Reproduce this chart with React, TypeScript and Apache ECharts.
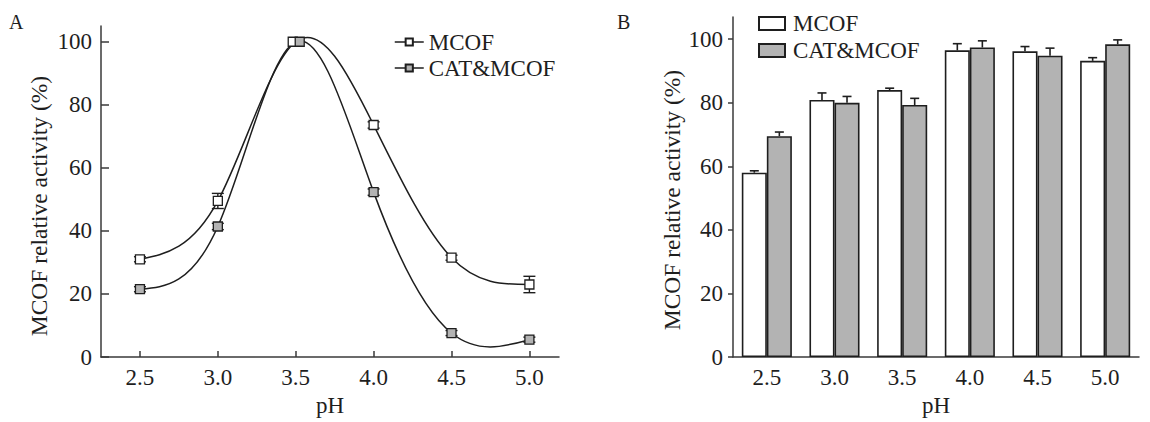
import React, { useEffect, useRef } from "react";
import * as echarts from "echarts";

// Panel A: relative activity vs pH (spline curves with error bars)
const phA = [2.5, 3.0, 3.5, 4.0, 4.5, 5.0];
const mcofA = [31, 49.5, 100, 73.6, 31.5, 23];
const mcofAErr = [0.8, 2.4, 0.8, 1.0, 0.8, 2.6];
const catA = [21.5, 41.4, 100, 52.3, 7.6, 5.5];
const catAErr = [0.8, 1.0, 0.8, 1.0, 0.8, 0.8];

// Panel B: relative activity per pH (grouped bars with error bars)
const phB = ["2.5", "3.0", "3.5", "4.0", "4.5", "5.0"];
const mcofB = [58, 80.9, 84, 96.5, 96.2, 93.2];
const mcofBErr = [0.6, 2.2, 0.6, 2.1, 1.5, 1.0];
const catB = [69.5, 80, 79.3, 97.4, 94.8, 98.4];
const catBErr = [1.3, 2.0, 2.1, 2.1, 2.4, 1.4];

const yTicks = [0, 20, 40, 60, 80, 100];
const xTicksA = [2.5, 3.0, 3.5, 4.0, 4.5, 5.0];

const SERIF = "'Liberation Serif', 'Times New Roman', serif";
const INK = "#1e1e1e";
const AXIS = "#3a3a3a";
const GREY = "#b3b3b3";
const BAR_CAT_GAP = 0.26;

// Natural cubic spline: slope at each knot (knots may be unevenly spaced)
function splineSlopes(xs: number[], ys: number[]): number[] {
  const n = xs.length;
  const h: number[] = [];
  for (let i = 0; i < n - 1; i++) h.push(xs[i + 1] - xs[i]);
  const M = new Array(n).fill(0);
  if (n > 2) {
    const a: number[] = [], b: number[] = [], c: number[] = [], d: number[] = [];
    for (let i = 1; i < n - 1; i++) {
      a.push(h[i - 1]);
      b.push(2 * (h[i - 1] + h[i]));
      c.push(h[i]);
      d.push(6 * ((ys[i + 1] - ys[i]) / h[i] - (ys[i] - ys[i - 1]) / h[i - 1]));
    }
    const m = b.length;
    for (let i = 1; i < m; i++) {
      const w = a[i] / b[i - 1];
      b[i] -= w * c[i - 1];
      d[i] -= w * d[i - 1];
    }
    const sol = new Array(m).fill(0);
    sol[m - 1] = d[m - 1] / b[m - 1];
    for (let i = m - 2; i >= 0; i--) sol[i] = (d[i] - c[i] * sol[i + 1]) / b[i];
    for (let i = 0; i < m; i++) M[i + 1] = sol[i];
  }
  const slopes: number[] = [];
  for (let i = 0; i < n; i++) {
    if (i < n - 1) {
      slopes.push((ys[i + 1] - ys[i]) / h[i] - (h[i] * (2 * M[i] + M[i + 1])) / 6);
    } else {
      slopes.push((ys[i] - ys[i - 1]) / h[i - 1] + (h[i - 1] * (M[i - 1] + 2 * M[i])) / 6);
    }
  }
  return slopes;
}

export default function App() {
  const ref = useRef<HTMLDivElement>(null);

  useEffect(() => {
    if (!ref.current) return;
    const chart = echarts.init(ref.current, undefined, { renderer: "svg" });

    const axisText = { color: INK, fontFamily: SERIF, fontSize: 23 };

    const errA = (vals: number[], errs: number[]) =>
      phA.map((p, i) => [p, vals[i] - errs[i], vals[i] + errs[i]]);

    const renderErrA = (params: any, api: any) => {
      const x = api.value(0);
      const top = api.coord([x, api.value(2)]);
      const bot = api.coord([x, api.value(1)]);
      const half = 6;
      const style = { stroke: INK, lineWidth: 1.4 };
      return {
        type: "group",
        children: [
          { type: "line", shape: { x1: top[0], y1: top[1], x2: bot[0], y2: bot[1] }, style },
          { type: "line", shape: { x1: top[0] - half, y1: top[1], x2: top[0] + half, y2: top[1] }, style },
          { type: "line", shape: { x1: bot[0] - half, y1: bot[1], x2: bot[0] + half, y2: bot[1] }, style },
        ],
      };
    };

    // One cubic Bezier per interval, built from the spline's knot slopes
    const renderSpline = (vals: number[]) => {
      const slopes = splineSlopes(phA, vals);
      return (params: any, api: any) => {
        const i = params.dataIndex;
        if (i >= phA.length - 1) return { type: "group", children: [] };
        const x0 = phA[i], x1 = phA[i + 1];
        const y0 = vals[i], y1 = vals[i + 1];
        const h = x1 - x0;
        const p0 = api.coord([x0, y0]);
        const c0 = api.coord([x0 + h / 3, y0 + (slopes[i] * h) / 3]);
        const c1 = api.coord([x1 - h / 3, y1 - (slopes[i + 1] * h) / 3]);
        const p1 = api.coord([x1, y1]);
        return {
          type: "bezierCurve",
          shape: {
            x1: p0[0], y1: p0[1],
            x2: p1[0], y2: p1[1],
            cpx1: c0[0], cpy1: c0[1],
            cpx2: c1[0], cpy2: c1[1],
          },
          style: { stroke: INK, lineWidth: 1.5, fill: null },
        };
      };
    };

    const errB = (vals: number[], errs: number[]) =>
      vals.map((v, i) => [i, v, v + errs[i]]);

    const renderErrB = (side: number) => (params: any, api: any) => {
      const idx = api.value(0);
      const band = api.size([1, 0])[0];
      const off = (side * band * (1 - BAR_CAT_GAP)) / 4;
      const top = api.coord([idx, api.value(2)]);
      const base = api.coord([idx, api.value(1)]);
      const x = top[0] + off;
      const half = 4.5;
      const style = { stroke: INK, lineWidth: 1.6 };
      return {
        type: "group",
        children: [
          { type: "line", shape: { x1: x, y1: top[1], x2: x, y2: base[1] }, style },
          { type: "line", shape: { x1: x - half, y1: top[1], x2: x + half, y2: top[1] }, style },
        ],
      };
    };

    const pointData = (vals: number[], shift: number) =>
      phA.map((p, i) =>
        p === 3.5 ? { value: [p, vals[i]], symbolOffset: [shift, 0] } : { value: [p, vals[i]] }
      );

    chart.setOption({
      animation: false,
      backgroundColor: "#ffffff",
      textStyle: { fontFamily: SERIF, color: INK },
      grid: [
        { left: 101, top: 26, width: 458, bottom: 63 },
        { left: 733, top: 17, right: 11, bottom: 65 },
      ],
      legend: [
        {
          data: ["MCOF", "CAT&MCOF"],
          orient: "vertical",
          left: 389,
          top: 24,
          itemWidth: 29,
          itemHeight: 9,
          itemGap: 0,
          lineStyle: { color: INK, width: 1.5, opacity: 1 },
          textStyle: { fontFamily: SERIF, fontSize: 23, color: INK, lineHeight: 26 },
        },
        {
          data: ["MCOF ", "CAT&MCOF "],
          orient: "vertical",
          left: 753,
          top: 5,
          icon: "rect",
          itemWidth: 26,
          itemHeight: 13,
          itemGap: 0,
          textStyle: {
            fontFamily: SERIF,
            fontSize: 23,
            color: INK,
            lineHeight: 27,
            padding: [0, 0, 0, 3],
          },
        },
      ],
      graphic: [
        { type: "text", x: 9, y: 12, style: { text: "A", font: `20px ${SERIF}`, fill: INK } },
        { type: "text", x: 617, y: 12, style: { text: "B", font: `20px ${SERIF}`, fill: INK } },
        {
          type: "text",
          x: 39,
          y: 206,
          rotation: Math.PI / 2,
          style: {
            text: "MCOF relative activity (%)",
            font: `23.5px ${SERIF}`,
            fill: INK,
            align: "center",
            verticalAlign: "middle",
          },
        },
        {
          type: "text",
          x: 672,
          y: 200,
          rotation: Math.PI / 2,
          style: {
            text: "MCOF relative activity (%)",
            font: `23.5px ${SERIF}`,
            fill: INK,
            align: "center",
            verticalAlign: "middle",
          },
        },
      ],
      xAxis: [
        {
          type: "value",
          gridIndex: 0,
          min: 2.25,
          max: 5.19,
          name: "pH",
          nameLocation: "middle",
          nameGap: 37,
          nameTextStyle: axisText,
          splitLine: { show: false },
          axisLine: { lineStyle: { color: AXIS, width: 1.5 } },
          axisTick: {
            inside: true,
            length: 6,
            customValues: xTicksA,
            lineStyle: { color: AXIS, width: 1.5 },
          },
          axisLabel: {
            ...axisText,
            margin: 9,
            customValues: xTicksA,
            formatter: (v: number) => v.toFixed(1),
          },
        },
        {
          type: "category",
          gridIndex: 1,
          data: phB,
          name: "pH",
          nameLocation: "middle",
          nameGap: 37,
          nameTextStyle: axisText,
          axisLine: { lineStyle: { color: AXIS, width: 1.5 } },
          axisTick: { show: false },
          axisLabel: { ...axisText, margin: 9 },
        },
      ],
      yAxis: [
        {
          type: "value",
          gridIndex: 0,
          min: 0,
          max: 105,
          splitLine: { show: false },
          axisLine: { show: true, lineStyle: { color: AXIS, width: 1.5 } },
          axisTick: {
            show: true,
            inside: true,
            length: 8,
            customValues: yTicks,
            lineStyle: { color: AXIS, width: 1.5 },
          },
          axisLabel: { ...axisText, margin: 9, customValues: yTicks },
        },
        {
          type: "value",
          gridIndex: 1,
          min: 0,
          max: 107,
          splitLine: { show: false },
          axisLine: { show: true, lineStyle: { color: AXIS, width: 1.5 } },
          axisTick: {
            show: true,
            length: 5,
            customValues: yTicks,
            lineStyle: { color: AXIS, width: 1.5 },
          },
          axisLabel: { ...axisText, margin: 10, customValues: yTicks },
        },
      ],
      series: [
        {
          type: "custom",
          name: "curve-mcof",
          xAxisIndex: 0,
          yAxisIndex: 0,
          data: phA.map((p, i) => [p, mcofA[i]]),
          encode: { x: 0, y: 1 },
          renderItem: renderSpline(mcofA),
          clip: false,
          z: 1,
        },
        {
          type: "custom",
          name: "curve-cat",
          xAxisIndex: 0,
          yAxisIndex: 0,
          data: phA.map((p, i) => [p, catA[i]]),
          encode: { x: 0, y: 1 },
          renderItem: renderSpline(catA),
          clip: false,
          z: 1,
        },
        {
          type: "custom",
          name: "errA-mcof",
          xAxisIndex: 0,
          yAxisIndex: 0,
          data: errA(mcofA, mcofAErr),
          encode: { x: 0, y: [1, 2] },
          renderItem: renderErrA,
          z: 2,
        },
        {
          type: "custom",
          name: "errA-cat",
          xAxisIndex: 0,
          yAxisIndex: 0,
          data: errA(catA, catAErr),
          encode: { x: 0, y: [1, 2] },
          renderItem: renderErrA,
          z: 2,
        },
        {
          type: "line",
          name: "MCOF",
          xAxisIndex: 0,
          yAxisIndex: 0,
          data: pointData(mcofA, -3),
          symbol: "rect",
          symbolSize: 9,
          lineStyle: { color: INK, width: 1.5, opacity: 0 },
          itemStyle: { color: "#ffffff", borderColor: INK, borderWidth: 1.3 },
          z: 3,
        },
        {
          type: "line",
          name: "CAT&MCOF",
          xAxisIndex: 0,
          yAxisIndex: 0,
          data: pointData(catA, 4),
          symbol: "rect",
          symbolSize: 9,
          lineStyle: { color: INK, width: 1.5, opacity: 0 },
          itemStyle: { color: GREY, borderColor: INK, borderWidth: 1.3 },
          z: 4,
        },
        {
          type: "bar",
          name: "MCOF ",
          xAxisIndex: 1,
          yAxisIndex: 1,
          data: mcofB,
          barGap: "0%",
          barCategoryGap: `${BAR_CAT_GAP * 100}%`,
          itemStyle: { color: "#ffffff", borderColor: INK, borderWidth: 1.6 },
        },
        {
          type: "bar",
          name: "CAT&MCOF ",
          xAxisIndex: 1,
          yAxisIndex: 1,
          data: catB,
          barGap: "0%",
          barCategoryGap: `${BAR_CAT_GAP * 100}%`,
          itemStyle: { color: GREY, borderColor: INK, borderWidth: 1.6 },
        },
        {
          type: "custom",
          name: "errB-mcof",
          xAxisIndex: 1,
          yAxisIndex: 1,
          data: errB(mcofB, mcofBErr),
          encode: { x: 0, y: [1, 2] },
          renderItem: renderErrB(-1),
          z: 5,
        },
        {
          type: "custom",
          name: "errB-cat",
          xAxisIndex: 1,
          yAxisIndex: 1,
          data: errB(catB, catBErr),
          encode: { x: 0, y: [1, 2] },
          renderItem: renderErrB(1),
          z: 5,
        },
      ],
    });

    return () => chart.dispose();
  }, []);

  return (
    <div
      ref={ref}
      style={{ position: "absolute", left: 0, top: 0, width: 1150, height: 422, background: "#fff" }}
    />
  );
}
